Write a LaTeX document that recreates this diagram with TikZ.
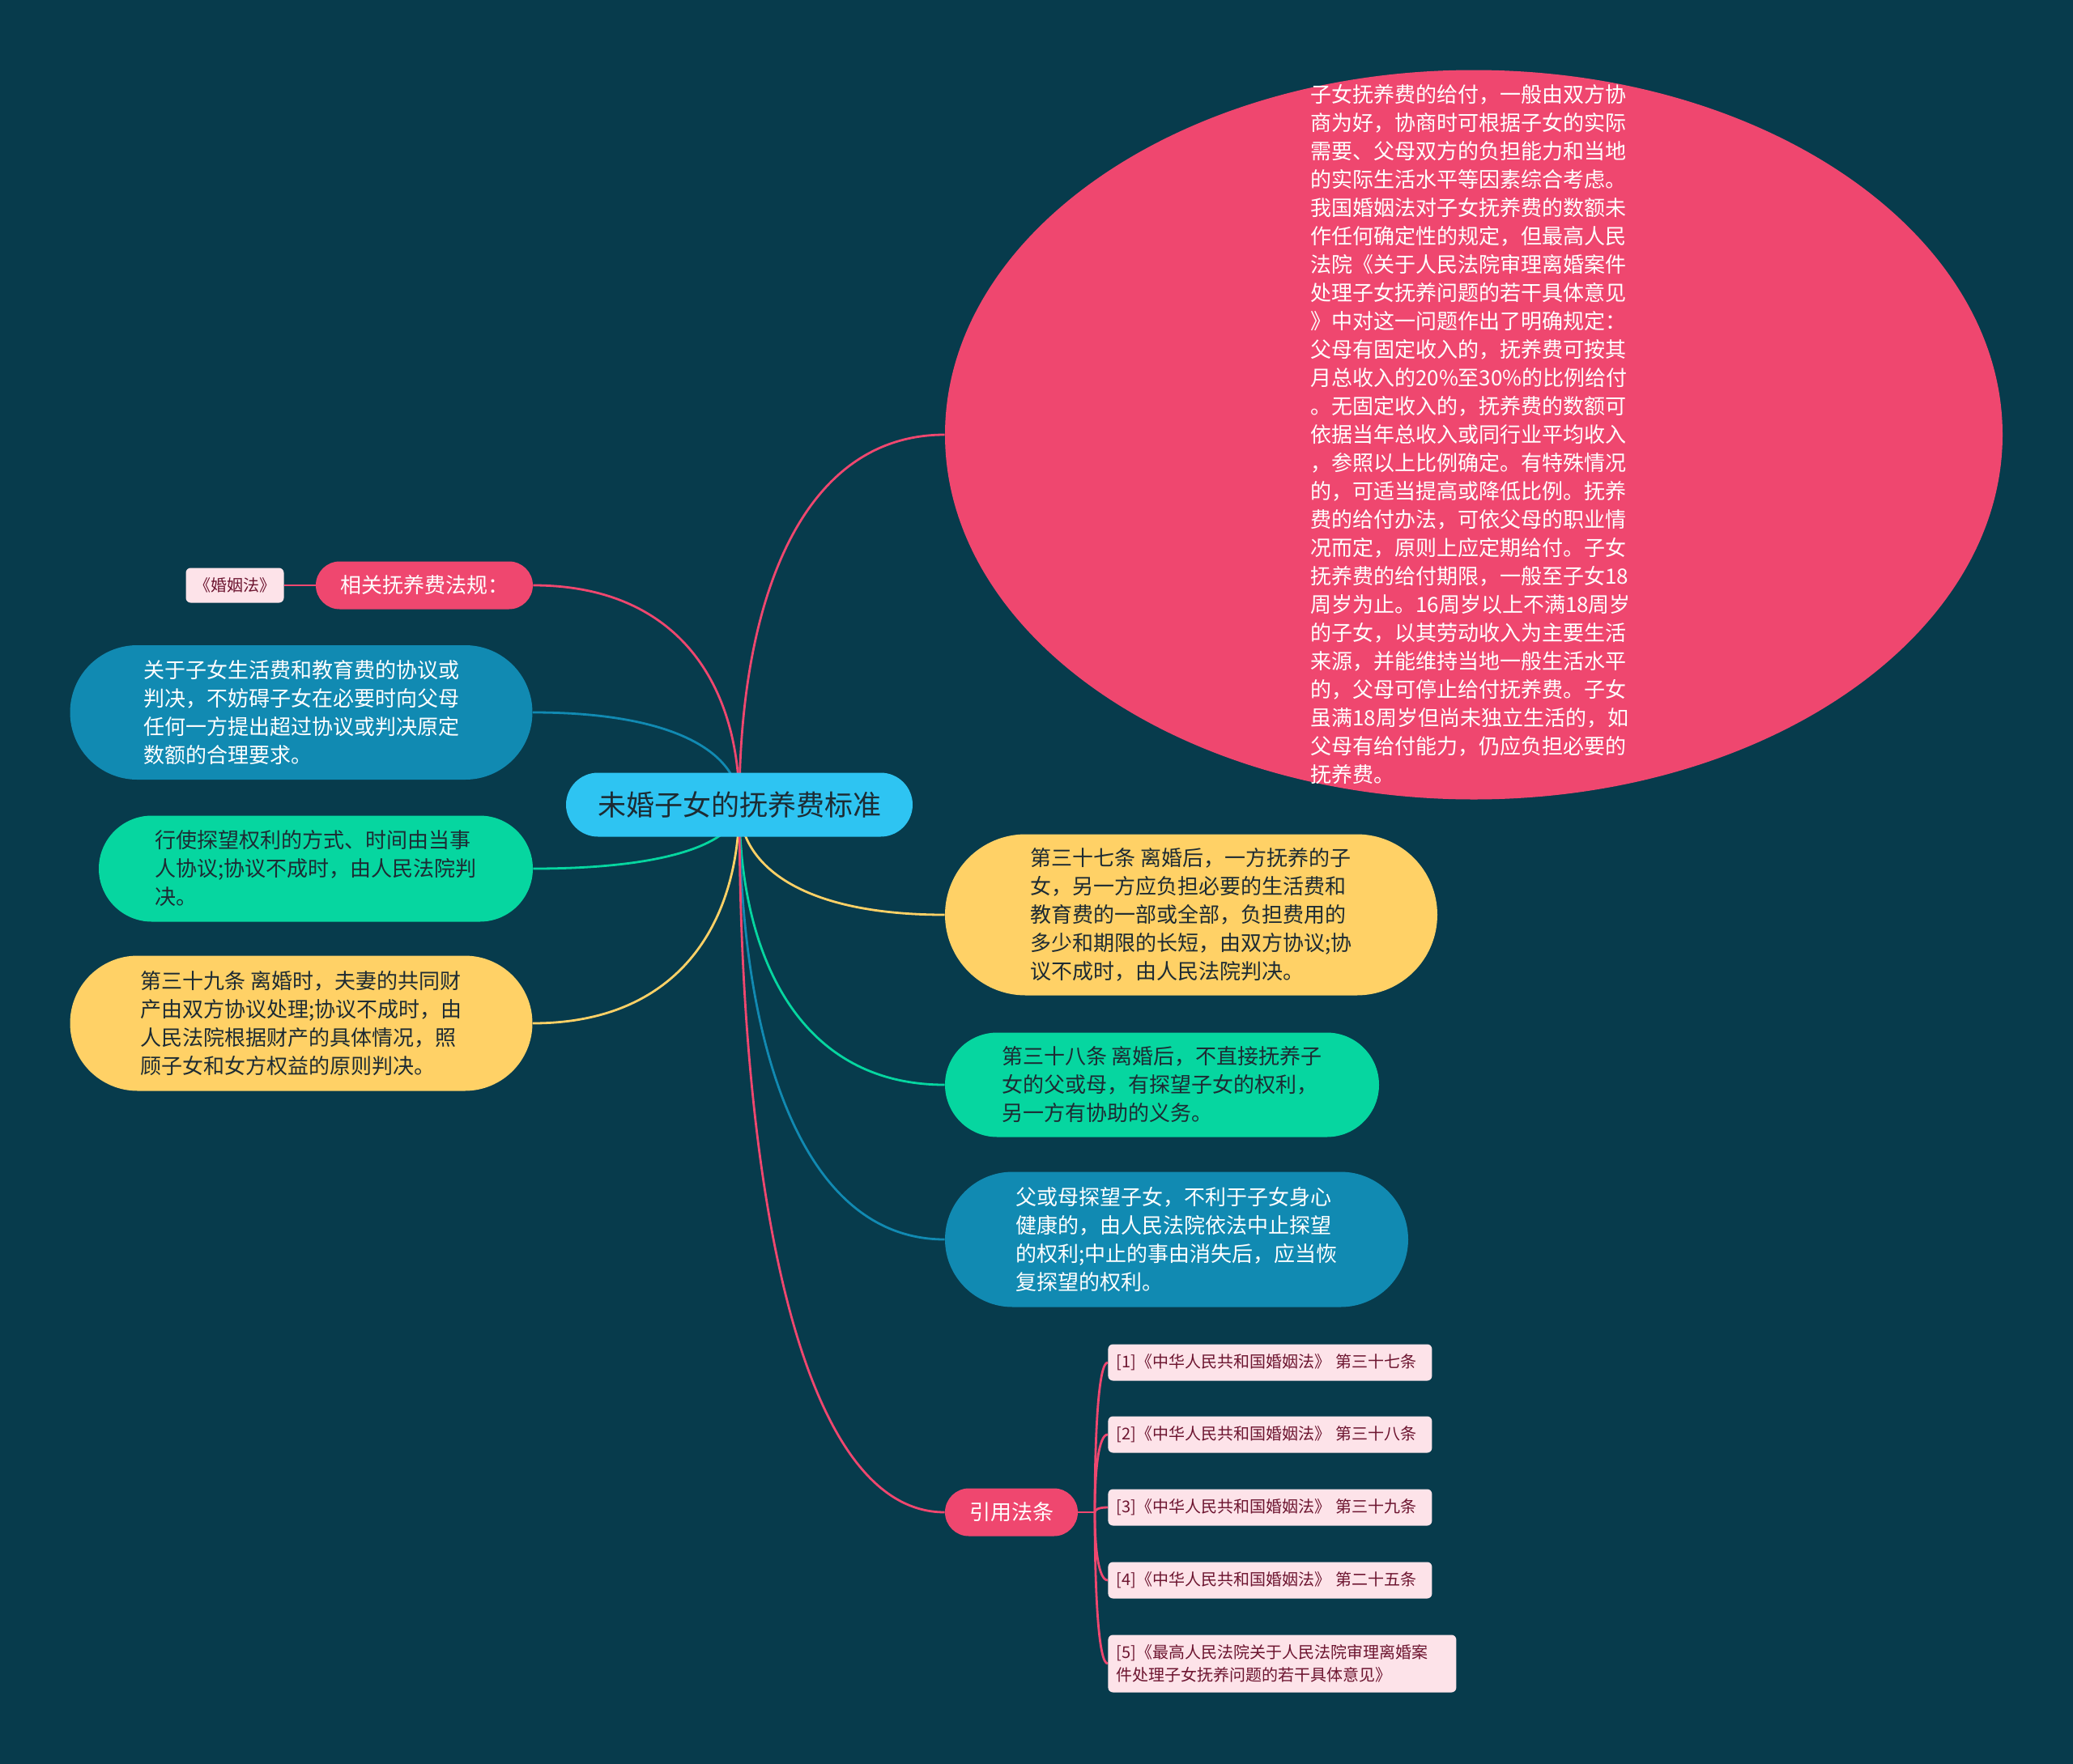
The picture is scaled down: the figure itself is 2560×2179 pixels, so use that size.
\documentclass[tikz,border=0pt]{standalone}
\usepackage{fontspec}
\setmainfont{Noto Sans CJK SC}
\usepackage{xcolor}
\usetikzlibrary{calc,shapes.geometric,backgrounds}

\definecolor{bgdark}{HTML}{073B4C}
\definecolor{pinkc}{HTML}{EF476F}
\definecolor{yellowc}{HTML}{FFD166}
\definecolor{greenc}{HTML}{06D6A0}
\definecolor{bluec}{HTML}{118AB2}
\definecolor{cyanc}{HTML}{2EC4F2}
\definecolor{refpink}{HTML}{FDE3E9}
\definecolor{maroon}{HTML}{6D1530}
\definecolor{inkdark}{HTML}{1D2B33}

\tikzset{
  body/.style={font=\fontsize{13pt}{17.5pt}\selectfont},
  pill/.style={rectangle, rounded corners=#1, inner sep=0pt, align=left, body},
  refbox/.style={fill=refpink, text=maroon, rounded corners=3pt, inner sep=0pt},
  ref/.style={refbox, anchor=west, inner xsep=5pt, minimum height=22.5pt,
    text width=190pt, align=left, font=\fontsize{10pt}{14pt}\selectfont},
  branch/.style={line width=1.4pt, to path={let \p1=(\tikztostart), \p2=(\tikztotarget) in
    .. controls (\x1,{\y1+0.55*(\y2-\y1)}) and ({\x1+0.3*(\x2-\x1)},\y2) .. (\tikztotarget)}}
}

\begin{document}
\begin{tikzpicture}[x=0.5pt, y=-0.5pt]
  \useasboundingbox (0,0) rectangle (2560,2179);

  % central topic
  \node[pill=19.75pt, fill=cyanc, text=inkdark, minimum width=214pt, minimum height=39.5pt,
    font=\fontsize{17.5pt}{21pt}\selectfont] (root) at (913,994) {未婚子女的抚养费标准};

  % big ellipse
  \node[ellipse, fill=pinkc, minimum width=653pt, minimum height=450.5pt, inner sep=0pt] (care) at (1820,537) {};
  \node[body, text=white, align=left, inner sep=0pt] (caretext) at (1816,537) {%
    子女抚养费的给付，一般由双方协\\
    商为好，协商时可根据子女的实际\\
    需要、父母双方的负担能力和当地\\
    的实际生活水平等因素综合考虑。\\
    我国婚姻法对子女抚养费的数额未\\
    作任何确定性的规定，但最高人民\\
    法院《关于人民法院审理离婚案件\\
    处理子女抚养问题的若干具体意见\\
    》中对这一问题作出了明确规定：\\
    父母有固定收入的，抚养费可按其\\
    月总收入的20\%至30\%的比例给付\\
    。无固定收入的，抚养费的数额可\\
    依据当年总收入或同行业平均收入\\
    ，参照以上比例确定。有特殊情况\\
    的，可适当提高或降低比例。抚养\\
    费的给付办法，可依父母的职业情\\
    况而定，原则上应定期给付。子女\\
    抚养费的给付期限，一般至子女18\\
    周岁为止。16周岁以上不满18周岁\\
    的子女，以其劳动收入为主要生活\\
    来源，并能维持当地一般生活水平\\
    的，父母可停止给付抚养费。子女\\
    虽满18周岁但尚未独立生活的，如\\
    父母有给付能力，仍应负担必要的\\
    抚养费。};

  % left side
  \node[refbox, minimum width=60.5pt, minimum height=21.5pt, font=\fontsize{10pt}{12pt}\selectfont]
    (law) at (290,723) {《婚姻法》};
  \node[pill=14.75pt, fill=pinkc, text=white, minimum width=134pt, minimum height=29.5pt]
    (rel) at (524,723) {相关抚养费法规：};
  \node[pill=41.5pt, fill=bluec, text=white, minimum width=285.5pt, minimum height=83pt] (bl) at (372,880) {%
    关于子女生活费和教育费的协议或\\
    判决，不妨碍子女在必要时向父母\\
    任何一方提出超过协议或判决原定\\
    数额的合理要求。};
  \node[pill=32.75pt, fill=greenc, text=inkdark, minimum width=268pt, minimum height=65.5pt] (gl) at (390,1073) {%
    行使探望权利的方式、时间由当事\\
    人协议;协议不成时，由人民法院判\\
    决。};
  \node[pill=41.75pt, fill=yellowc, text=inkdark, minimum width=285.5pt, minimum height=83.5pt] (yl) at (372,1264) {%
    第三十九条 离婚时，夫妻的共同财\\
    产由双方协议处理;协议不成时，由\\
    人民法院根据财产的具体情况，照\\
    顾子女和女方权益的原则判决。};

  % right side
  \node[pill=49.75pt, fill=yellowc, text=inkdark, minimum width=304pt, minimum height=99.5pt] (yr) at (1471,1130) {%
    第三十七条 离婚后，一方抚养的子\\
    女，另一方应负担必要的生活费和\\
    教育费的一部或全部，负担费用的\\
    多少和期限的长短，由双方协议;协\\
    议不成时，由人民法院判决。};
  \node[pill=32.25pt, fill=greenc, text=inkdark, minimum width=268pt, minimum height=64.5pt] (gr) at (1435,1340) {%
    第三十八条 离婚后，不直接抚养子\\
    女的父或母，有探望子女的权利，\\
    另一方有协助的义务。};
  \node[pill=41.75pt, fill=bluec, text=white, minimum width=286pt, minimum height=83.5pt] (br) at (1453,1531) {%
    父或母探望子女，不利于子女身心\\
    健康的，由人民法院依法中止探望\\
    的权利;中止的事由消失后，应当恢\\
    复探望的权利。};
  \node[pill=14.75pt, fill=pinkc, text=white, minimum width=82pt, minimum height=29.5pt]
    (cite) at (1249,1868) {引用法条};

  % references
  \node[ref] (r1) at (1368,1683) {\mbox{[1]《中华人民共和国婚姻法》 第三十七条}};
  \node[ref] (r2) at (1368,1772) {\mbox{[2]《中华人民共和国婚姻法》 第三十八条}};
  \node[ref] (r3) at (1368,1862) {\mbox{[3]《中华人民共和国婚姻法》 第三十九条}};
  \node[ref] (r4) at (1368,1952) {\mbox{[4]《中华人民共和国婚姻法》 第二十五条}};
  \node[ref, text width=205pt, minimum height=35.5pt] (r5) at (1368,2055) {%
    [5]《最高人民法院关于人民法院审理离婚案\\件处理子女抚养问题的若干具体意见》};
  \coordinate (jn) at (1352,1868);

  \begin{scope}[on background layer]
    \fill[bgdark] (0,0) rectangle (2560,2179);
    \draw[branch, pinkc] (root.center) to (care.west);
    \draw[branch, pinkc] (root.center) to (rel.east);
    \draw[branch, bluec] (root.center) to (bl.east);
    \draw[branch, greenc] (root.center) to (gl.east);
    \draw[branch, yellowc] (root.center) to (yl.east);
    \draw[branch, yellowc] (root.center) to (yr.west);
    \draw[branch, greenc] (root.center) to (gr.west);
    \draw[branch, bluec] (root.center) to (br.west);
    \draw[branch, pinkc] (root.center) to (cite.west);
    \draw[pinkc, line width=1.4pt] (law) -- (rel);
    \draw[pinkc, line width=1.4pt] (cite) -- (jn);
    \foreach \r in {r1,r2,r3,r4,r5}
      \draw[branch, pinkc] (jn) to (\r.west);
  \end{scope}
\end{tikzpicture}
\end{document}
